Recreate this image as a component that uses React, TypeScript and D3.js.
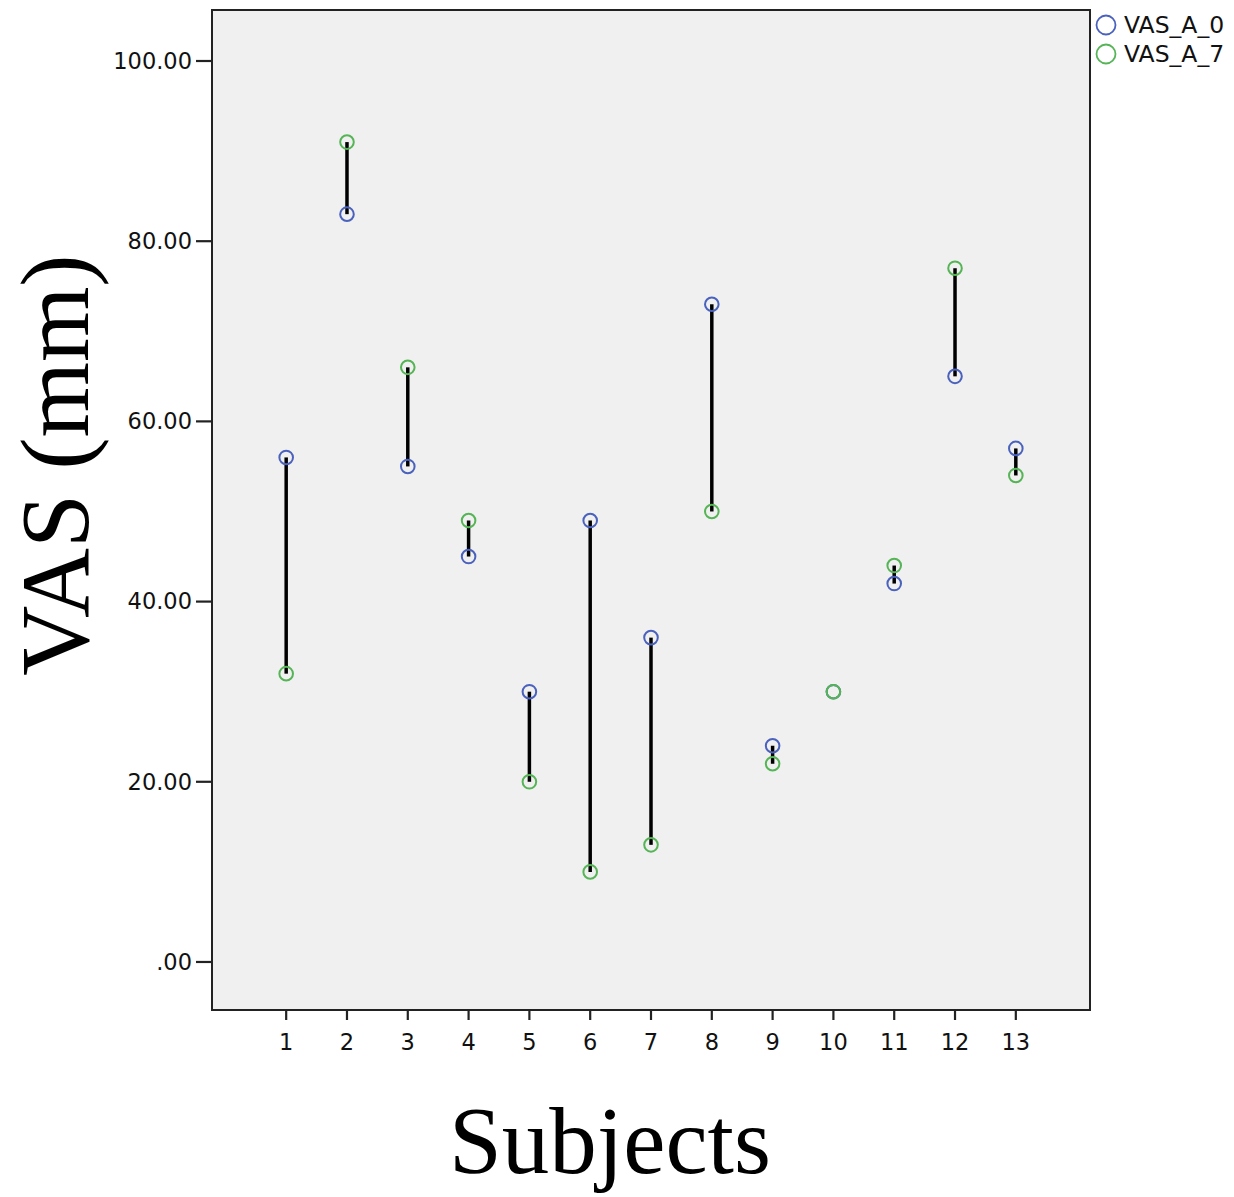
import React from "react";
import * as d3 from "d3";

const subjects = [1, 2, 3, 4, 5, 6, 7, 8, 9, 10, 11, 12, 13];
const vasA0 = [56, 83, 55, 45, 30, 49, 36, 73, 24, 30, 42, 65, 57];
const vasA7 = [32, 91, 66, 49, 20, 10, 13, 50, 22, 30, 44, 77, 54];
const yTicks = [0, 20, 40, 60, 80, 100];
const seriesNames = ["VAS_A_0", "VAS_A_7"];
const seriesColors = ["#4a62bd", "#55b455"];

export default function App() {
  const W = 1234, H = 1197;
  const left = 212, right = 1090, top = 10, bottom = 1010;
  const x = d3.scaleLinear().domain([-0.22, 14.22]).range([left, right]);
  const y = d3.scaleLinear().domain([-5.33, 105.66]).range([bottom, top]);
  const fmt = (v: number) => (v === 0 ? ".00" : v.toFixed(2));
  const tickFont = "'DejaVu Sans', sans-serif";
  return (
    <svg width={W} height={H} style={{ position: "absolute", left: 0, top: 0, background: "#fff" }}>
      <rect x={left} y={top} width={right - left} height={bottom - top} fill="#f0f0f0" stroke="#222" strokeWidth={2} />
      {yTicks.map((t) => (
        <g key={t}>
          <line x1={left - 16} x2={left} y1={y(t)} y2={y(t)} stroke="#222" strokeWidth={2.2} />
          <text x={left - 20} y={y(t)} dy="0.35em" textAnchor="end" fontFamily={tickFont} fontSize={22.5} fill="#111">
            {fmt(t)}
          </text>
        </g>
      ))}
      {subjects.map((s) => (
        <g key={s}>
          <line x1={x(s)} x2={x(s)} y1={bottom} y2={bottom + 10} stroke="#222" strokeWidth={2.2} />
          <text x={x(s)} y={bottom + 40} textAnchor="middle" fontFamily={tickFont} fontSize={22.5} fill="#111">
            {s}
          </text>
        </g>
      ))}
      {subjects.map((s, i) => (
        <line key={"l" + s} x1={x(s)} x2={x(s)} y1={y(vasA0[i])} y2={y(vasA7[i])} stroke="#000" strokeWidth={3.5} />
      ))}
      {subjects.map((s, i) => (
        <circle key={"a0" + s} cx={x(s)} cy={y(vasA0[i])} r={6.8} fill="none" stroke={seriesColors[0]} strokeWidth={2} />
      ))}
      {subjects.map((s, i) => (
        <circle key={"a7" + s} cx={x(s)} cy={y(vasA7[i])} r={6.8} fill="none" stroke={seriesColors[1]} strokeWidth={2} />
      ))}
      {seriesNames.map((n, i) => (
        <g key={n}>
          <circle cx={1106} cy={25 + i * 29} r={9.5} fill="none" stroke={seriesColors[i]} strokeWidth={1.8} />
          <text x={1124} y={25 + i * 29} dy="0.36em" fontFamily={tickFont} fontSize={23.5} fill="#111">
            {n}
          </text>
        </g>
      ))}
      <text
        transform={`translate(88, ${(top + bottom) / 2 - 45}) rotate(-90)`}
        textAnchor="middle"
        fontFamily="'Liberation Serif', 'Times New Roman', serif"
        fontSize={97}
        fill="#000"
      >
        VAS (mm)
      </text>
      <text x={610} y={1173} textAnchor="middle" fontFamily="'Liberation Serif', 'Times New Roman', serif" fontSize={95} fill="#000">
        Subjects
      </text>
    </svg>
  );
}
